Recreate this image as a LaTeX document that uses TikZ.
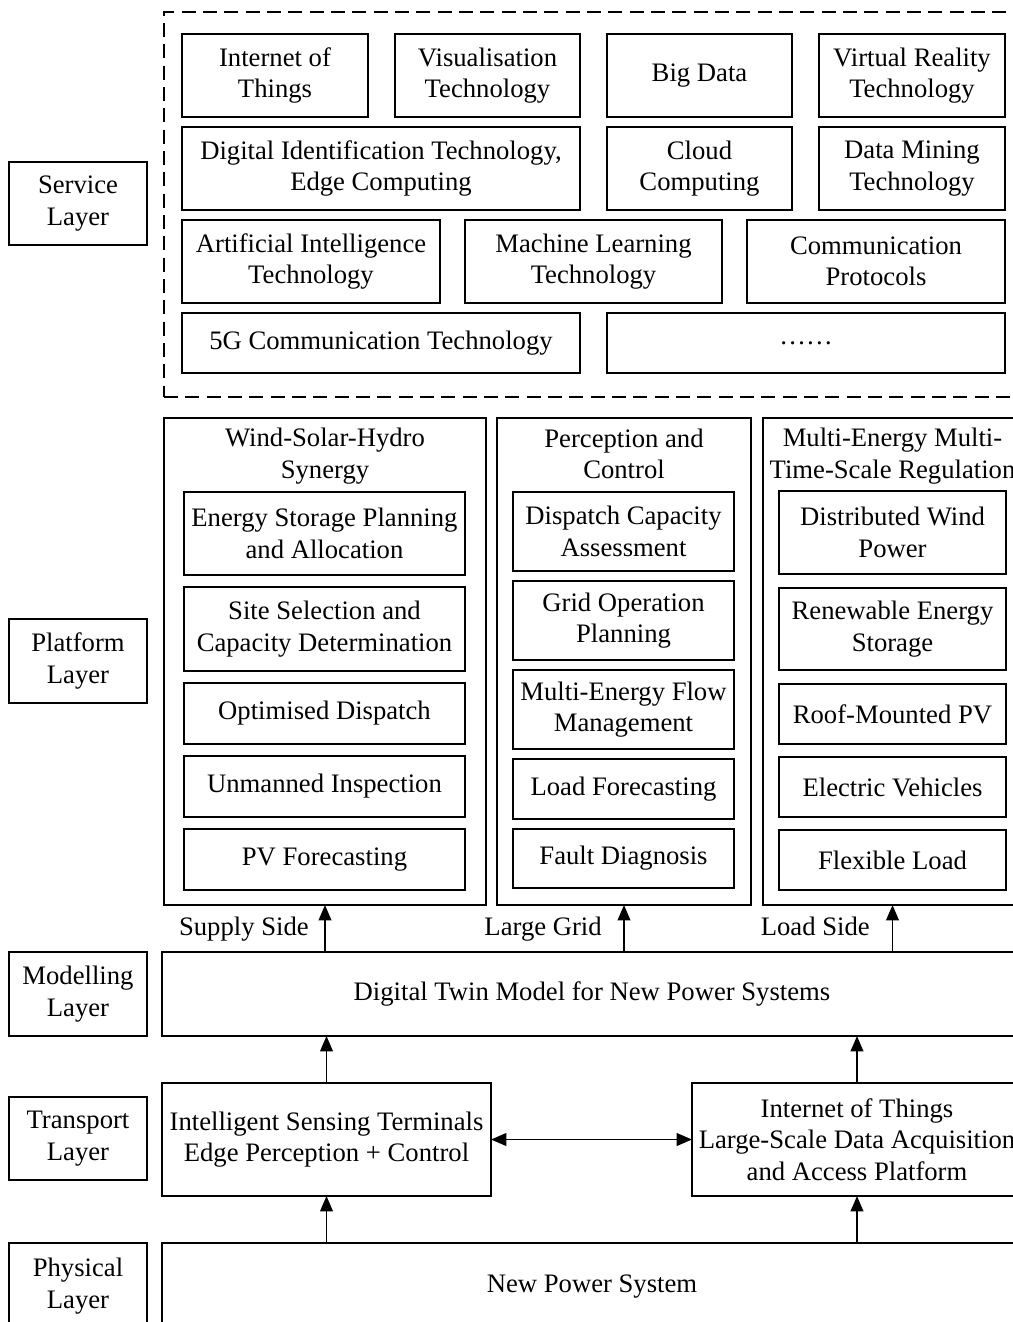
\documentclass[tikz,border=0pt]{standalone}
\usepackage{fontspec}
\setmainfont{Liberation Serif}
\usetikzlibrary{arrows.meta}

% box given by its corners (x1,y1) and (x2,y2) in pixel units
\newcommand\pbox[7][]{%
  \node[box,#1,minimum width={(#5-#3)*0.75pt},minimum height={(#6-#4)*0.75pt}]
    (#2) at ({(#3+#5)/2},{(#4+#6)/2}) {#7};}

\tikzset{
  txt/.style={font=\fontsize{20pt}{23.5pt}\selectfont, align=center},
  box/.style={txt, draw, line width=1.2pt, inner sep=0pt, outer sep=0pt},
  frame/.style={draw, line width=1.2pt, dash pattern=on 10.5pt off 5.5pt},
  tip/.tip={Triangle[length=11.5pt,width=9.5pt]},
  arr/.style={line width=1.2pt, -tip},
  darr/.style={line width=1.4pt, tip-tip},
  lbl/.style={txt, inner sep=0pt, anchor=base east},
}

\begin{document}
\begin{tikzpicture}[x=0.75pt, y=-0.75pt]
\path[use as bounding box] (0,0) rectangle (1013,1322);
\clip (0,0) rectangle (1013,1322);

% ---- layer names ----
\pbox{lsvc}{9}{162}{147}{245}{Service\\Layer}
\pbox{lplat}{9}{619}{147}{703}{Platform\\Layer}
\pbox{lmod}{9}{952}{147}{1036}{Modelling\\Layer}
\pbox{ltra}{9}{1097}{147}{1180}{Transport\\Layer}
\pbox{lphy}{9}{1243}{147}{1329}{Physical\\Layer}

% ---- service layer ----
\pbox[frame]{svc}{164}{12}{1022}{397}{}
\pbox{iot}{182}{34}{368}{117}{Internet of\\Things}
\pbox{vis}{395}{34}{580}{117}{Visualisation\\Technology}
\pbox{bigd}{607}{34}{792}{117}{Big Data}
\pbox{vr}{819}{34}{1005}{117}{Virtual Reality\\Technology}
\pbox{did}{182}{127}{580}{210}{Digital Identification Technology,\\Edge Computing}
\pbox{cloud}{607}{127}{792}{210}{Cloud\\Computing}
\pbox{dm}{819}{127}{1005}{210}{Data Mining\\Technology}
\pbox{ai}{182}{220}{440}{303}{Artificial Intelligence\\Technology}
\pbox{ml}{465}{220}{722}{303}{Machine Learning\\Technology}
\pbox{cp}{747}{220}{1005}{303}{Communication\\Protocols}
\pbox{fiveg}{182}{313}{580}{373}{5G Communication Technology}
\pbox{more}{607}{313}{1005}{373}{……}

% ---- platform layer ----
\pbox{pa}{164}{418}{486}{905}{}
\node[txt] (ta) at (325,456) {Wind-Solar-Hydro\\Synergy};
\pbox{a1}{184}{492}{465}{575}{Energy Storage Planning\\and Allocation}
\pbox{a2}{184}{587}{465}{671}{Site Selection and\\Capacity Determination}
\pbox{a3}{184}{683}{465}{744}{Optimised Dispatch}
\pbox{a4}{184}{756}{465}{817}{Unmanned Inspection}
\pbox{a5}{184}{829}{465}{890}{PV Forecasting}

\pbox{pb}{497}{418}{751}{905}{}
\node[txt] (tb) at (624,454) {Perception and\\Control};
\pbox{b1}{513}{492}{734}{571}{Dispatch Capacity\\Assessment}
\pbox{b2}{513}{581}{734}{660}{Grid Operation\\Planning}
\pbox{b3}{513}{670}{734}{749}{Multi-Energy Flow\\Management}
\pbox{b4}{513}{759}{734}{819}{Load Forecasting}
\pbox{b5}{513}{829}{734}{888}{Fault Diagnosis}

\pbox{pc}{763}{418}{1022}{905}{}
\node[txt] (tc) at (892.5,456) {Multi-Energy Multi-\\Time-Scale Regulation};
\pbox{c1}{779}{491}{1006}{574}{Distributed Wind\\Power}
\pbox{c2}{779}{588}{1006}{670}{Renewable Energy\\Storage}
\pbox{c3}{779}{684}{1006}{744}{Roof-Mounted PV}
\pbox{c4}{779}{757}{1006}{817}{Electric Vehicles}
\pbox{c5}{779}{830}{1006}{890}{Flexible Load}

% ---- modelling, transport and physical layers ----
\pbox{dt}{162}{952}{1022}{1036}{Digital Twin Model for New Power Systems}
\pbox{ist}{162}{1083}{491}{1196}{Intelligent Sensing Terminals\\Edge Perception + Control}
\pbox{iotp}{692}{1083}{1022}{1196}{Internet of Things\\Large-Scale Data Acquisition\\and Access Platform}
\pbox{phys}{162}{1243}{1022}{1330}{New Power System}

% ---- connectors ----
\draw[arr] (dt.north -| pa.south) -- (pa.south);
\draw[arr] (dt.north -| pb.south) -- (pb.south);
\draw[arr] (dt.north -| pc.south) -- (pc.south);
\node[lbl] (sup) at (309,935) {Supply Side};
\node[lbl] (grid) at (602,935) {Large Grid};
\node[lbl] (load) at (870,935) {Load Side};

\draw[arr] (ist.north) -- (ist.north |- dt.south);
\draw[arr] (iotp.north) -- (iotp.north |- dt.south);
\draw[arr] (ist.south |- phys.north) -- (ist.south);
\draw[arr] (iotp.south |- phys.north) -- (iotp.south);
\draw[darr] (ist.east) -- (iotp.west);
\end{tikzpicture}
\end{document}
